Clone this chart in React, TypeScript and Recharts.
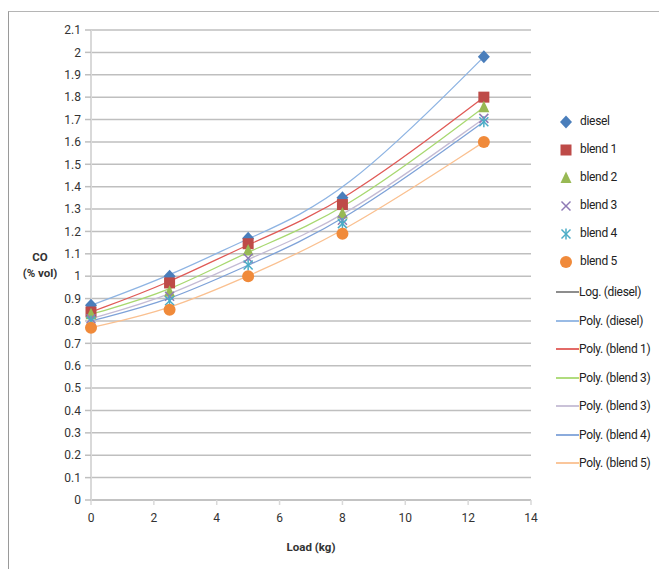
import React from 'react';
import { ComposedChart, Line, XAxis, YAxis, CartesianGrid, Label } from 'recharts';

const loads = [0, 2.5, 5, 8, 12.5];
const diesel = [0.87, 1.0, 1.17, 1.35, 1.98];
const blend1 = [0.84, 0.97, 1.145, 1.32, 1.8];
const blend2 = [0.83, 0.93, 1.115, 1.28, 1.755];
const blend3 = [0.81, 0.91, 1.08, 1.25, 1.705];
const blend4 = [0.8, 0.89, 1.05, 1.235, 1.69];
const blend5 = [0.77, 0.85, 1.0, 1.19, 1.6];

const xTicks = [0, 2, 4, 6, 8, 10, 12, 14];
const yTicks = [0, 0.1, 0.2, 0.3, 0.4, 0.5, 0.6, 0.7, 0.8, 0.9, 1, 1.1, 1.2, 1.3, 1.4, 1.5, 1.6, 1.7, 1.8, 1.9, 2, 2.1];

const markerNames = ['diesel', 'blend 1', 'blend 2', 'blend 3', 'blend 4', 'blend 5'];
const trendNames = ['Log. (diesel)', 'Poly. (diesel)', 'Poly. (blend 1)', 'Poly. (blend 3)', 'Poly. (blend 3)', 'Poly. (blend 4)', 'Poly. (blend 5)'];

const keys = ['diesel', 'blend1', 'blend2', 'blend3', 'blend4', 'blend5'];
const seriesValues = [diesel, blend1, blend2, blend3, blend4, blend5];
const data = loads.map((x, i) => {
  const row: any = { load: x };
  keys.forEach((k, j) => { row[k] = seriesValues[j][i]; });
  return row;
});

const markerColors = ['#4A7EBB', '#BE4B48', '#98B954', '#8E7AB5', '#4BACC6', '#F08A3A'];
const trendColors = ['#8EB4E3', '#E05A56', '#A8D870', '#C4BBD4', '#7EA2D8', '#FAC090'];
const logColor = '#808080';

const FONT = "Roboto, 'Liberation Sans', sans-serif";

function Marker({ kind, cx, cy, color }: { kind: number; cx: number; cy: number; color: string }) {
  if (kind === 0) return <path d={`M${cx},${cy - 6.5}L${cx + 6},${cy}L${cx},${cy + 6.5}L${cx - 6},${cy}Z`} fill={color} />;
  if (kind === 1) return <rect x={cx - 5.5} y={cy - 5.5} width={11} height={11} fill={color} />;
  if (kind === 2) return <path d={`M${cx},${cy - 6.5}L${cx + 5.5},${cy + 5}L${cx - 5.5},${cy + 5}Z`} fill={color} />;
  if (kind === 3)
    return (
      <g stroke={color} strokeWidth={1.5}>
        <line x1={cx - 4.5} y1={cy - 4.5} x2={cx + 4.5} y2={cy + 4.5} />
        <line x1={cx - 4.5} y1={cy + 4.5} x2={cx + 4.5} y2={cy - 4.5} />
      </g>
    );
  if (kind === 4)
    return (
      <g stroke={color} strokeWidth={1.5}>
        <line x1={cx - 4.5} y1={cy - 4.5} x2={cx + 4.5} y2={cy + 4.5} />
        <line x1={cx - 4.5} y1={cy + 4.5} x2={cx + 4.5} y2={cy - 4.5} />
        <line x1={cx} y1={cy - 5.5} x2={cx} y2={cy + 5.5} />
      </g>
    );
  return <circle cx={cx} cy={cy} r={6} fill={color} />;
}

function makeDot(kind: number) {
  return (props: any) => {
    const { cx, cy, index } = props;
    if (cx == null || cy == null) return <g key={`d${kind}-${index}`} />;
    return (
      <g key={`d${kind}-${index}`}>
        <Marker kind={kind} cx={cx} cy={cy} color={markerColors[kind]} />
      </g>
    );
  };
}

function YLabel(props: any) {
  const vb = props.viewBox || { x: 0, y: 18, width: 82, height: 470 };
  const cx = vb.x + 31;
  const cy = vb.y + vb.height / 2;
  const st = { fontFamily: FONT, fontSize: 11.5, fontWeight: 'bold' as const, fill: '#333' };
  return (
    <g>
      <text x={cx} y={cy - 4} textAnchor="middle" {...st}>CO</text>
      <text x={cx} y={cy + 12} textAnchor="middle" {...st}>(% vol)</text>
    </g>
  );
}

function LegendBlock() {
  const markerY = [121, 149, 177, 205, 233, 261];
  const lineY = [292, 321, 349, 378, 406, 435, 463];
  const lineCols = [logColor, ...trendColors];
  const textStyle: React.CSSProperties = { position: 'absolute', fontFamily: FONT, fontSize: 12, letterSpacing: '-0.3px', color: '#222', lineHeight: '16px', whiteSpace: 'nowrap' };
  return (
    <div style={{ position: 'absolute', left: 0, top: 0, width: 0, height: 0 }}>
      {markerNames.map((n, i) => (
        <React.Fragment key={'m' + i}>
          <svg style={{ position: 'absolute', left: 565 - 8 - 8, top: markerY[i] - 8 - 11 }} width={16} height={16}>
            <Marker kind={i} cx={8} cy={8} color={markerColors[i]} />
          </svg>
          <div style={{ ...textStyle, left: 580 - 9, top: markerY[i] - 8 - 12 }}>{n}</div>
        </React.Fragment>
      ))}
      {trendNames.map((n, i) => (
        <React.Fragment key={'t' + i}>
          <svg style={{ position: 'absolute', left: 556 - 9, top: lineY[i] - 12 - 2 }} width={24} height={4}>
            <line x1={0} y1={2} x2={23} y2={2} stroke={lineCols[i]} strokeWidth={1.8} />
          </svg>
          <div style={{ ...textStyle, left: 579 - 9, top: lineY[i] - 8 - 12 }}>{n}</div>
        </React.Fragment>
      ))}
    </div>
  );
}

export default function App() {
  return (
    <div style={{ position: 'absolute', left: 8, top: 11, width: 650, height: 558, borderTop: '1px solid #B5B5B5', borderLeft: '1px solid #9A9A9A', background: '#fff' }}>
      <ComposedChart width={650} height={557} data={data} margin={{ top: 18, right: 128, bottom: 0, left: 0 }}>
        <CartesianGrid horizontal vertical={false} stroke="#BFBFBF" strokeWidth={1.5} />
        <XAxis
          type="number"
          dataKey="load"
          domain={[0, 14]}
          ticks={xTicks}
          height={69}
          axisLine={{ stroke: '#BFBFBF', strokeWidth: 1.5 }}
          tickLine={{ stroke: '#D9D9D9', strokeWidth: 1.5 }}
          tickSize={5}
          tickMargin={8}
          tick={{ fontFamily: FONT, fontSize: 12, fill: '#333' }}
          interval={0}
        >
          <Label value="Load (kg)" position="insideBottom" offset={18} style={{ fontFamily: FONT, fontSize: 11.5, fontWeight: 'bold', fill: '#333' }} />
        </XAxis>
        <YAxis
          type="number"
          domain={[0, 2.1]}
          ticks={yTicks}
          width={82}
          interval={0}
          axisLine={{ stroke: '#D9D9D9', strokeWidth: 2 }}
          tickLine={{ stroke: '#BFBFBF', strokeWidth: 1.5 }}
          tickSize={6}
          tickMargin={4}
          tick={{ fontFamily: FONT, fontSize: 12, fill: '#333' }}
          label={<YLabel />}
        />
        {keys.map((k, i) => (
          <Line key={'trend-' + k} dataKey={k} type="basis" stroke={trendColors[i]} strokeWidth={1.3} dot={false} activeDot={false} isAnimationActive={false} />
        ))}
        {keys.map((k, i) => (
          <Line key={'mark-' + k} dataKey={k} stroke="none" strokeWidth={0} dot={makeDot(i)} activeDot={false} isAnimationActive={false} />
        ))}
      </ComposedChart>
      <LegendBlock />
    </div>
  );
}
